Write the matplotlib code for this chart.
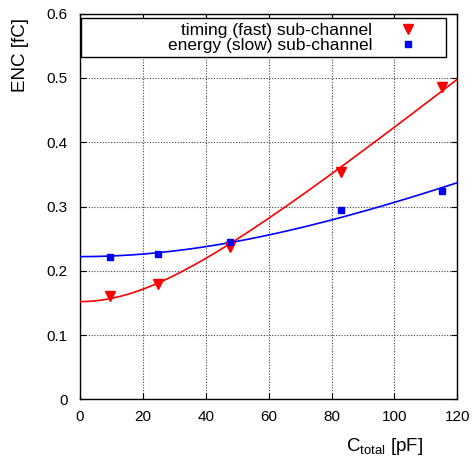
import numpy as np
import matplotlib
matplotlib.use("Agg")
import matplotlib.pyplot as plt
from matplotlib.patches import Rectangle

plt.rcParams['font.family'] = ['Liberation Sans', 'DejaVu Sans']
plt.rcParams['mathtext.fontset'] = 'custom'
plt.rcParams['mathtext.rm'] = 'Liberation Sans'

# Data
c_total = [9.6, 24.8, 47.7, 83.0, 115.1]
enc_timing = [0.161, 0.180, 0.237, 0.354, 0.486]
enc_energy = [0.221, 0.2255, 0.245, 0.294, 0.324]

# Fit parameters: ENC = sqrt(a^2 + (b*C)^2)
fit_timing = (0.152, 0.003952)
fit_energy = (0.222, 0.002113)

label_timing = "timing (fast) sub-channel"
label_energy = "energy (slow) sub-channel"

xticks = [0, 20, 40, 60, 80, 100, 120]
yticks = [0, 0.1, 0.2, 0.3, 0.4, 0.5, 0.6]

fig = plt.figure(figsize=(4.77, 4.59), dpi=100)
ax = fig.add_axes([80/477, 1-399.3/459, (457.3-80)/477, (399.3-13.7)/459])

xs = np.linspace(0, 120, 300)
for (a, b), col in [(fit_timing, 'red'), (fit_energy, 'blue')]:
    ax.plot(xs, np.sqrt(a**2 + (b*xs)**2), color=col, lw=1.2, zorder=3)

h1, = ax.plot(c_total, enc_timing, 'v', color='red', ms=6.5, mec='red', ls='none', zorder=4)
h2, = ax.plot(c_total, enc_energy, 's', color='blue', ms=5.0, mec='blue', ls='none', zorder=4)

ax.set_xlim(0, 120)
ax.set_ylim(0, 0.6)
ax.set_xticks(xticks)
ax.set_yticks(yticks)
ax.set_xticklabels([str(t) for t in xticks])
ax.set_yticklabels(['0' if t == 0 else f"{t:.1f}" for t in yticks])
ax.tick_params(direction='in', top=True, right=True, length=4, width=0.8,
               labelsize=11, colors='black')
ax.tick_params(axis='x', pad=8)
ax.tick_params(axis='y', pad=9)
ax.grid(True, color='0.25', linestyle=(0, (1, 1.5)), linewidth=0.8)
ax.set_axisbelow(True)
for s in ax.spines.values():
    s.set_linewidth(1.0)

ax.set_xlabel(r'$\mathregular{C_{total}}$ [pF]', fontsize=13.5)
ax.xaxis.set_label_coords(0.806, -0.122)
ax.xaxis.label.set_va('center')
ax.set_ylabel('ENC [fC]', fontsize=13.5)
ax.yaxis.set_label_coords(-0.157, 0.893)
ax.yaxis.label.set_va('center')

# Legend box
x0 = (81-80)/377.3
x1 = (445.7-80)/377.3
y1 = (399.3-18.3)/385.6
y0 = (399.3-57.3)/385.6
ax.add_patch(Rectangle((x0, y0), x1-x0, y1-y0, transform=ax.transAxes,
                       facecolor='white', edgecolor='black', lw=1.0, zorder=5))
leg = ax.legend([h1, h2], [label_timing, label_energy], loc='center right',
                bbox_to_anchor=((416.7-80)/377.3, (y0+y1)/2), frameon=False,
                markerfirst=False, handlelength=1.0, handletextpad=1.57,
                borderpad=0, borderaxespad=0, labelspacing=0.0, fontsize=12.5)
leg.set_zorder(6)

fig.savefig('out.png', dpi=100)
